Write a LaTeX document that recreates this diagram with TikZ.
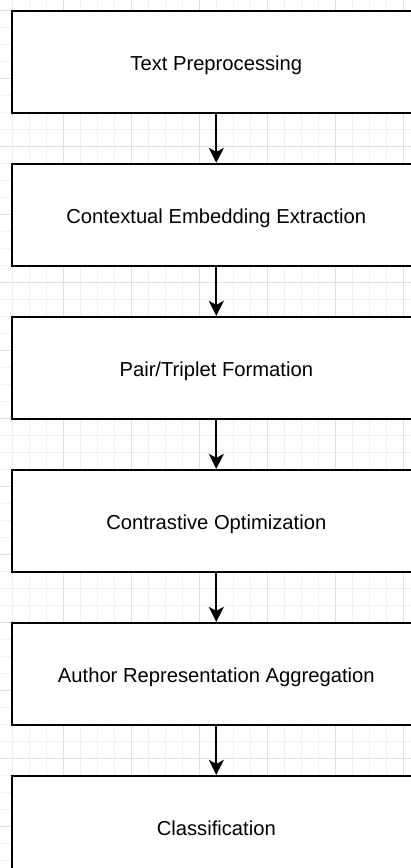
\documentclass[tikz,border=0pt]{standalone}
\usepackage{fontspec}
\setmainfont{Liberation Sans}
\usetikzlibrary{arrows.meta}
\begin{document}
\begin{tikzpicture}[x=1pt,y=-1pt,
 stepbox/.style={draw=black,line width=1.7pt,fill=white,minimum width=408pt,minimum height=102pt,inner sep=0pt,text height=23pt,text depth=4.5pt,font=\fontsize{20.2}{24}\selectfont},
 flow/.style={line width=1.7pt,-{Stealth[length=15pt,width=15pt,inset=4pt]}},
 minorgrid/.style={draw=black!6,line width=0.9pt},
 majorgrid/.style={draw=black!12,line width=0.9pt}]
\useasboundingbox (0,0) rectangle (411,868);
\clip (0,0) rectangle (411,868);
\fill[white] (0,0) rectangle (411,868);
\foreach \k in {-1,...,24} {
  \pgfmathsetmacro{\xx}{12.3+17*\k}
  \draw[minorgrid] (\xx,0) -- (\xx,868);
}
\foreach \k in {-1,...,51} {
  \pgfmathsetmacro{\yy}{10.7+17*\k}
  \draw[minorgrid] (0,\yy) -- (411,\yy);
}
\foreach \m in {-1,...,5} {
  \pgfmathsetmacro{\xx}{63.3+68*\m}
  \draw[majorgrid] (\xx,0) -- (\xx,868);
}
\foreach \m in {0,...,12} {
  \pgfmathsetmacro{\yy}{10.7+68*\m}
  \draw[majorgrid] (0,\yy) -- (411,\yy);
}
\node[stepbox] (n1) at (216.3,61.7) {Text Preprocessing};
\node[stepbox] (n2) at (216.3,214.7) {Contextual Embedding Extraction};
\node[stepbox] (n3) at (216.3,367.7) {Pair/Triplet Formation};
\node[stepbox] (n4) at (216.3,520.7) {Contrastive Optimization};
\node[stepbox] (n5) at (216.3,673.7) {Author Representation Aggregation};
\node[stepbox] (n6) at (216.3,826.7) {Classification};
\draw[flow] (n1.south) -- (n2.north);
\draw[flow] (n2.south) -- (n3.north);
\draw[flow] (n3.south) -- (n4.north);
\draw[flow] (n4.south) -- (n5.north);
\draw[flow] (n5.south) -- (n6.north);
\end{tikzpicture}
\end{document}
